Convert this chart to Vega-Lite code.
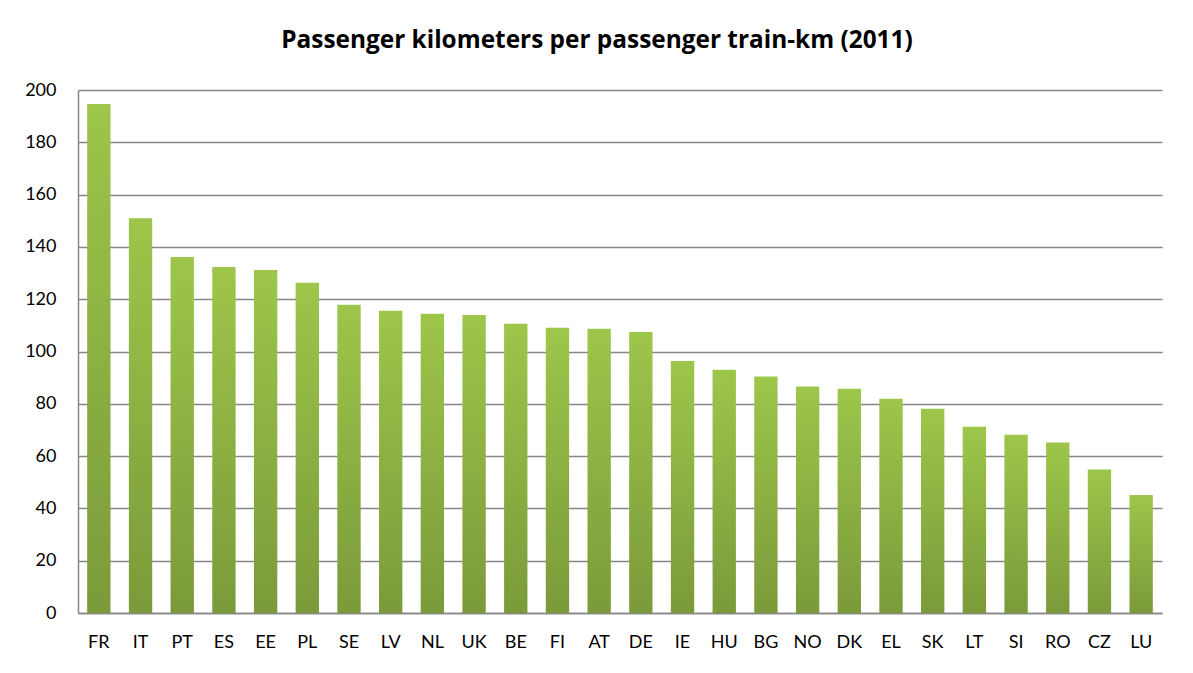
{
  "$schema": "https://vega.github.io/schema/vega-lite/v6.json",
  "width": 1084,
  "height": 523,
  "autosize": {"type": "none"},
  "padding": {"left": 78, "top": 90, "right": 31, "bottom": 60},
  "background": "white",
  "title": {
    "text": "Passenger kilometers per passenger train-km (2011)",
    "font": "Open Sans",
    "fontSize": 24.4,
    "fontWeight": "bold",
    "color": "#000000",
    "anchor": "middle",
    "dx": -23,
    "offset": 28
  },
  "data": {
    "values": [
      {"country": "FR", "value": 194.6},
      {"country": "IT", "value": 151.0},
      {"country": "PT", "value": 136.1},
      {"country": "ES", "value": 132.3},
      {"country": "EE", "value": 131.2},
      {"country": "PL", "value": 126.3},
      {"country": "SE", "value": 117.9},
      {"country": "LV", "value": 115.6},
      {"country": "NL", "value": 114.4},
      {"country": "UK", "value": 114.0},
      {"country": "BE", "value": 110.6},
      {"country": "FI", "value": 109.1},
      {"country": "AT", "value": 108.7},
      {"country": "DE", "value": 107.5},
      {"country": "IE", "value": 96.4},
      {"country": "HU", "value": 93.0},
      {"country": "BG", "value": 90.4},
      {"country": "NO", "value": 86.6},
      {"country": "DK", "value": 85.8},
      {"country": "EL", "value": 81.9},
      {"country": "SK", "value": 78.1},
      {"country": "LT", "value": 71.2},
      {"country": "SI", "value": 68.2},
      {"country": "RO", "value": 65.2},
      {"country": "CZ", "value": 54.9},
      {"country": "LU", "value": 45.1}
    ]
  },
  "mark": {
    "type": "bar",
    "color": {
      "gradient": "linear",
      "x1": 0, "y1": 0, "x2": 0, "y2": 1,
      "stops": [
        {"offset": 0, "color": "#9DC64A"},
        {"offset": 1, "color": "#7B9A3A"}
      ]
    }
  },
  "encoding": {
    "x": {
      "field": "country",
      "type": "nominal",
      "sort": null,
      "title": null,
      "scale": {"paddingInner": 0.44, "paddingOuter": 0.22},
      "axis": {
        "labelAngle": 0,
        "labelFont": "Lato",
        "labelFontSize": 18,
        "labelColor": "#000000",
        "labelPadding": 20,
        "ticks": false,
        "domainColor": "#868686",
        "domainWidth": 1.5
      }
    },
    "y": {
      "field": "value",
      "type": "quantitative",
      "title": null,
      "scale": {"domain": [0, 200], "nice": false},
      "axis": {
        "values": [0, 20, 40, 60, 80, 100, 120, 140, 160, 180, 200],
        "labelFont": "Lato",
        "labelFontSize": 18,
        "labelColor": "#000000",
        "labelPadding": 22,
        "ticks": false,
        "domain": true,
        "domainColor": "#868686",
        "domainWidth": 1.5,
        "grid": true,
        "gridColor": "#868686",
        "gridWidth": 1.5
      }
    }
  },
  "config": {
    "view": {"stroke": null}
  }
}
